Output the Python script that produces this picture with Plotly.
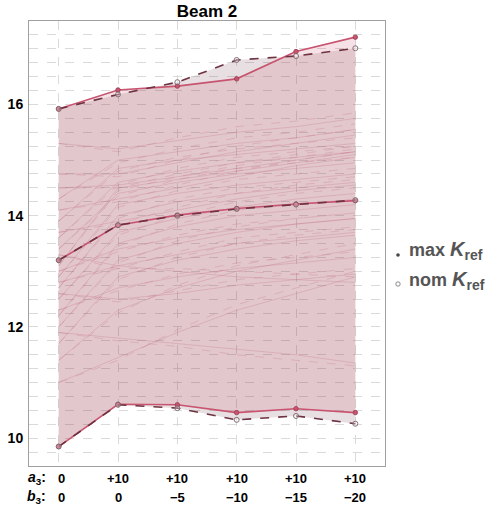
import plotly.graph_objects as go

# ---------------- data ----------------
a3_labels = ["0", "+10", "+10", "+10", "+10", "+10"]
b3_labels = ["0", "0", "\u22125", "\u221210", "\u221215", "\u221220"]
xpos = [0, 1, 2, 3, 4, 5]

max_upper = [15.92, 16.26, 16.33, 16.46, 16.95, 17.21]
nom_upper = [15.92, 16.18, 16.40, 16.80, 16.87, 17.01]
max_lower = [9.85, 10.61, 10.60, 10.46, 10.53, 10.46]
nom_lower = [9.85, 10.60, 10.54, 10.33, 10.40, 10.26]
max_mid = [13.20, 13.83, 14.01, 14.13, 14.21, 14.27]
nom_mid = [13.20, 13.83, 14.00, 14.12, 14.20, 14.28]

bg_max = [
    [15.30, 15.20, 15.35, 15.50, 15.60, 15.75],
    [14.75, 14.75, 14.95, 15.15, 15.30, 15.45],
    [14.30, 15.00, 15.15, 15.30, 15.40, 15.55],
    [13.90, 14.85, 15.00, 15.10, 15.20, 15.30],
    [13.60, 14.60, 14.80, 14.95, 15.05, 15.15],
    [13.40, 14.40, 14.60, 14.75, 14.85, 14.95],
    [13.10, 14.50, 14.65, 14.80, 14.95, 15.10],
    [12.90, 14.20, 14.40, 14.55, 14.65, 14.75],
    [12.70, 14.00, 14.25, 14.40, 14.50, 14.60],
    [12.50, 13.70, 13.95, 14.15, 14.30, 14.40],
    [12.20, 13.50, 13.80, 14.00, 14.10, 14.20],
    [12.00, 13.20, 13.50, 13.70, 13.85, 13.95],
    [11.70, 12.90, 13.20, 13.40, 13.55, 13.65],
    [13.70, 13.90, 14.10, 14.30, 14.45, 14.55],
    [13.00, 13.40, 13.60, 13.75, 13.85, 13.95],
    [12.60, 12.50, 12.60, 12.75, 12.85, 12.95],
    [11.90, 11.80, 11.70, 11.60, 11.50, 11.35],
    [11.00, 11.45, 11.90, 12.30, 12.60, 12.90],
    [12.30, 12.70, 12.90, 13.05, 13.15, 13.25],
    [13.30, 13.10, 13.00, 12.90, 12.85, 12.80],
    [14.10, 14.30, 14.50, 14.70, 14.90, 15.05],
    [12.80, 13.10, 13.30, 13.50, 13.60, 13.70],
    [11.40, 12.30, 12.70, 13.00, 13.20, 13.40],
    [14.50, 14.55, 14.70, 14.85, 15.00, 15.15],
]
bg_nom = [
    [15.30, 15.15, 15.40, 15.60, 15.70, 15.85],
    [14.75, 14.70, 15.00, 15.25, 15.40, 15.55],
    [14.30, 14.95, 15.20, 15.40, 15.50, 15.65],
    [13.90, 14.80, 15.05, 15.20, 15.30, 15.40],
    [13.60, 14.55, 14.85, 15.05, 15.15, 15.25],
    [13.40, 14.35, 14.65, 14.85, 14.95, 15.05],
    [13.10, 14.45, 14.70, 14.90, 15.05, 15.20],
    [12.90, 14.15, 14.45, 14.65, 14.75, 14.85],
    [12.70, 13.95, 14.30, 14.50, 14.60, 14.70],
    [12.50, 13.65, 14.00, 14.25, 14.40, 14.50],
    [12.20, 13.45, 13.85, 14.10, 14.20, 14.30],
    [12.00, 13.15, 13.55, 13.80, 13.95, 14.05],
    [11.70, 12.85, 13.25, 13.50, 13.65, 13.75],
    [13.70, 13.85, 14.15, 14.40, 14.55, 14.65],
    [13.00, 13.35, 13.65, 13.85, 13.95, 14.05],
    [12.60, 12.45, 12.65, 12.85, 12.95, 13.05],
    [11.90, 11.75, 11.65, 11.50, 11.40, 11.30],
    [11.00, 11.40, 11.95, 12.40, 12.70, 13.00],
    [12.30, 12.65, 12.95, 13.15, 13.25, 13.35],
    [13.30, 13.05, 13.05, 13.00, 12.95, 12.90],
    [14.10, 14.25, 14.55, 14.80, 15.00, 15.15],
    [12.80, 13.05, 13.35, 13.60, 13.70, 13.80],
    [11.40, 12.25, 12.75, 13.10, 13.30, 13.50],
    [14.50, 14.50, 14.75, 14.95, 15.10, 15.25],
]

# ---------------- styles ----------------
MAX_COL = "rgb(200,84,112)"
NOM_COL = "rgb(110,50,64)"
BG_COL = "rgba(185,80,110,0.30)"
FONT = "Liberation Sans, Arial, sans-serif"

fig = go.Figure()

# band fills
fig.add_trace(go.Scatter(
    x=xpos + xpos[::-1], y=nom_upper + nom_lower[::-1], fill="toself",
    fillcolor="rgba(120,80,90,0.18)", line=dict(width=0), mode="lines",
    hoverinfo="skip", showlegend=False))
fig.add_trace(go.Scatter(
    x=xpos + xpos[::-1], y=max_upper + max_lower[::-1], fill="toself",
    fillcolor="rgba(200,75,100,0.16)", line=dict(width=0), mode="lines",
    hoverinfo="skip", showlegend=False))

# background individual curves
for ys in bg_max:
    fig.add_trace(go.Scatter(x=xpos, y=ys, mode="lines",
                             line=dict(color=BG_COL, width=0.7),
                             hoverinfo="skip", showlegend=False))
for ys in bg_nom:
    fig.add_trace(go.Scatter(x=xpos, y=ys, mode="lines",
                             line=dict(color=BG_COL, width=0.7, dash="dash"),
                             hoverinfo="skip", showlegend=False))

# envelope + median curves
for ys in (max_upper, max_lower, max_mid):
    fig.add_trace(go.Scatter(
        x=xpos, y=ys, mode="lines+markers",
        line=dict(color=MAX_COL, width=1.6),
        marker=dict(size=4.5, color=MAX_COL, line=dict(color="rgb(150,60,80)", width=0.8)),
        showlegend=False))
for ys in (nom_upper, nom_lower, nom_mid):
    fig.add_trace(go.Scatter(
        x=xpos, y=ys, mode="lines+markers",
        line=dict(color=NOM_COL, width=1.6, dash="dash"),
        marker=dict(size=5, color="rgba(255,255,255,0.3)", symbol="circle",
                    line=dict(color="rgb(120,100,105)", width=0.9)),
        showlegend=False))

annotations = []
# x-axis two-row labels
for i in range(len(xpos)):
    xs = 3 if i == 0 else 0
    annotations.append(dict(x=xpos[i], y=-0.027, xref="x", yref="paper",
                            text="<b>%s</b>" % a3_labels[i], showarrow=False,
                            xanchor="center", yanchor="middle", xshift=xs,
                            font=dict(family=FONT, size=13, color="black")))
    annotations.append(dict(x=xpos[i], y=-0.0697, xref="x", yref="paper",
                            text="<b>%s</b>" % b3_labels[i], showarrow=False,
                            xanchor="center", yanchor="middle", xshift=xs,
                            font=dict(family=FONT, size=13, color="black")))
annotations.append(dict(x=(48 - 29) / 356, y=-0.027, xref="paper", yref="paper",
                        text="<b><i>a</i><sub>3</sub>:</b>", showarrow=False,
                        xanchor="right", yanchor="middle",
                        font=dict(family=FONT, size=14, color="black")))
annotations.append(dict(x=(48 - 29) / 356, y=-0.0697, xref="paper", yref="paper",
                        text="<b><i>b</i><sub>3</sub>:</b>", showarrow=False,
                        xanchor="right", yanchor="middle",
                        font=dict(family=FONT, size=14, color="black")))
# legend text
LEG_COL = "rgb(85,85,85)"
SUB = "<sub><span style='font-size:14px'>ref</span></sub>"
annotations.append(dict(x=(407 - 29) / 356, y=(466 - 250) / 445, xref="paper", yref="paper",
                        text="<b>max <span style='font-size:20px'><i>K</i></span>" + SUB + "</b>",
                        showarrow=False, xanchor="left", yanchor="middle",
                        font=dict(family=FONT, size=18, color=LEG_COL)))
annotations.append(dict(x=(407 - 29) / 356, y=(466 - 280) / 445, xref="paper", yref="paper",
                        text="<b>nom <span style='font-size:20px'><i>K</i></span>" + SUB + "</b>",
                        showarrow=False, xanchor="left", yanchor="middle",
                        font=dict(family=FONT, size=18, color=LEG_COL)))

shapes = [
    dict(type="circle", xref="paper", yref="paper", xsizemode="pixel", ysizemode="pixel",
         xanchor=(398 - 29) / 356, yanchor=(466 - 255) / 445, x0=-1.8, x1=1.8, y0=-1.8, y1=1.8,
         fillcolor="rgb(70,70,70)", line=dict(width=0)),
    dict(type="circle", xref="paper", yref="paper", xsizemode="pixel", ysizemode="pixel",
         xanchor=(398 - 29) / 356, yanchor=(466 - 284) / 445, x0=-2.2, x1=2.2, y0=-2.2, y1=2.2,
         fillcolor="white", line=dict(width=0.8, color="rgb(110,110,110)")),
]

fig.update_layout(
    width=498, height=506,
    margin=dict(l=29, r=113, t=21, b=40, autoexpand=False),
    paper_bgcolor="white", plot_bgcolor="white",
    title=dict(text="<b>Beam 2</b>", x=(207) / 498, xanchor="center",
               y=1 - 11.5 / 506, yanchor="middle", automargin=False,
               font=dict(family=FONT, size=17, color="black")),
    xaxis=dict(range=[-0.5, 5.5], tickvals=xpos, showticklabels=False, automargin=False,
               showgrid=True, gridcolor="rgb(218,218,218)", griddash="dash", gridwidth=1,
               zeroline=False, showline=True, mirror=True, linecolor="rgb(160,160,160)",
               linewidth=1, ticks=""),
    yaxis=dict(range=[9.5, 17.5], tickvals=[10, 12, 14, 16], automargin=False,
               tickfont=dict(family=FONT, size=14, color="black", weight="bold"),
               showgrid=True, gridcolor="rgb(218,218,218)", griddash="dash", gridwidth=1,
               minor=dict(dtick=0.25, tick0=0, showgrid=True, gridcolor="rgb(218,218,218)",
                          griddash="dash", gridwidth=1),
               zeroline=False, showline=True, mirror=True, linecolor="rgb(160,160,160)",
               linewidth=1, ticks="", ticklabelstandoff=2),
    annotations=annotations,
    shapes=shapes,
    showlegend=False,
)

fig.write_html("out.html", config={"displayModeBar": False},
               post_script="document.body.style.margin='0';document.body.style.padding='0';")
